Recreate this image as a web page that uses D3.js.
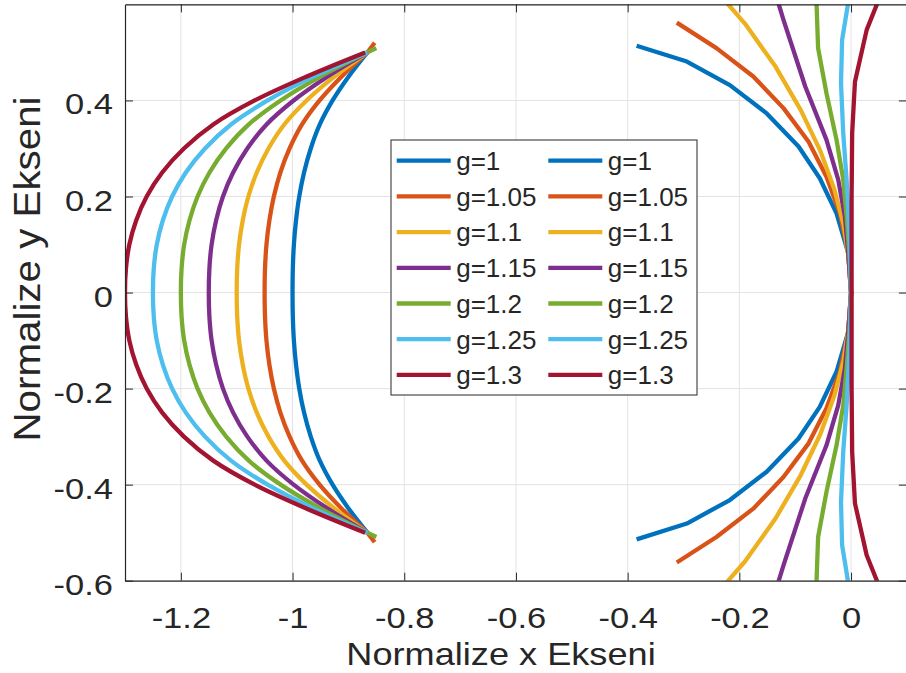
<!DOCTYPE html>
<html>
<head>
<meta charset="utf-8">
<script src="https://cdn.jsdelivr.net/npm/d3@7"></script>
<style>
  html, body { margin: 0; padding: 0; background: #ffffff; }
  svg { display: block; }
  text { font-family: "Liberation Sans", Arial, sans-serif; fill: #262626; }
</style>
</head>
<body>
<svg id="chart" width="906" height="673"></svg>
<script>
// ---------- data ----------
const gLabels = ["g=1", "g=1.05", "g=1.1", "g=1.15", "g=1.2", "g=1.25", "g=1.3"];
const colors  = ["#0072BD", "#D95319", "#EDB120", "#7E2F8E", "#77AC30", "#4DBEEE", "#A2142F"];

const xTicks = [-1.2, -1, -0.8, -0.6, -0.4, -0.2, 0];
const yTicks = [-0.6, -0.4, -0.2, 0, 0.2, 0.4];

// Left family: y samples shared, x per g
const leftY = [0.5, 0.45, 0.4, 0.35, 0.3, 0.25, 0.2, 0.15, 0.1, 0.05, 0,
               -0.05, -0.1, -0.15, -0.2, -0.25, -0.3, -0.35, -0.4, -0.45, -0.5];
const leftX = [
  [-0.866, -0.8995, -0.9283, -0.9512, -0.9674, -0.9794, -0.9880, -0.9938, -0.9976, -0.9995, -1.000,
   -0.9995, -0.9976, -0.9938, -0.9880, -0.9794, -0.9674, -0.9512, -0.9283, -0.8995, -0.866],
  [-0.866, -0.9120, -0.9516, -0.9830, -1.0053, -1.0218, -1.0335, -1.0415, -1.0467, -1.0493, -1.050,
   -1.0493, -1.0467, -1.0415, -1.0335, -1.0218, -1.0053, -0.9830, -0.9516, -0.9120, -0.866],
  [-0.866, -0.9245, -0.9748, -1.0148, -1.0431, -1.0641, -1.0791, -1.0892, -1.0958, -1.0991, -1.100,
   -1.0991, -1.0958, -1.0892, -1.0791, -1.0641, -1.0431, -1.0148, -0.9748, -0.9245, -0.866],
  [-0.866, -0.9370, -0.9981, -1.0466, -1.0810, -1.1064, -1.1246, -1.1369, -1.1449, -1.1489, -1.150,
   -1.1489, -1.1449, -1.1369, -1.1246, -1.1064, -1.0810, -1.0466, -0.9981, -0.9370, -0.866],
  [-0.866, -0.9495, -1.0213, -1.0784, -1.1188, -1.1487, -1.1701, -1.1846, -1.1940, -1.1987, -1.200,
   -1.1987, -1.1940, -1.1846, -1.1701, -1.1487, -1.1188, -1.0784, -1.0213, -0.9495, -0.866],
  [-0.866, -0.9620, -1.0446, -1.1102, -1.1567, -1.1911, -1.2156, -1.2323, -1.2431, -1.2485, -1.250,
   -1.2485, -1.2431, -1.2323, -1.2156, -1.1911, -1.1567, -1.1102, -1.0446, -0.9620, -0.866],
  [-0.870, -0.9745, -1.0678, -1.1420, -1.1945, -1.2334, -1.2612, -1.2800, -1.2922, -1.2983, -1.300,
   -1.2983, -1.2922, -1.2800, -1.2612, -1.2334, -1.1945, -1.1420, -1.0678, -0.9745, -0.870]
];
// short straight stubs beyond the tips (orange and green)
const stubX = [[-0.866, -0.853], [-0.866, -0.850]];
const stubY = [[0.5, 0.520], [0.5, 0.509]];
const stubSeries = [1, 4];

// Right family (x, y) — one array per g (polylines)
const rightX = [
  [-0.384, -0.294, -0.217, -0.151, -0.094, -0.056, -0.026, -0.005, 0, -0.005, -0.026, -0.056, -0.094, -0.151, -0.217, -0.294, -0.384],
  [-0.312, -0.241, -0.175, -0.121, -0.076, -0.044, -0.020, -0.005, 0, -0.005, -0.020, -0.044, -0.076, -0.121, -0.175, -0.241, -0.312],
  [-0.250, -0.190, -0.135, -0.090, -0.055, -0.030, -0.013, -0.004, 0, -0.004, -0.013, -0.030, -0.055, -0.090, -0.135, -0.190, -0.250],
  [-0.140, -0.121, -0.082, -0.044, -0.023, -0.011, -0.005, 0, -0.005, -0.011, -0.023, -0.044, -0.082, -0.121, -0.140],
  [-0.063, -0.059, -0.044, -0.026, -0.014, -0.008, -0.003, 0, -0.003, -0.008, -0.014, -0.026, -0.044, -0.059, -0.063],
  [ 0.000, -0.016, -0.018, -0.014, -0.008, -0.003, 0, -0.003, -0.008, -0.014, -0.018, -0.016, 0.000],
  [ 0.060, 0.028, 0.007, 0.002, 0.001, 0.001, 0.001, 0.001, 0.002, 0.007, 0.028, 0.060]
];
const rightY = [
  [0.514, 0.481, 0.432, 0.373, 0.304, 0.238, 0.165, 0.082, 0, -0.082, -0.165, -0.238, -0.304, -0.373, -0.432, -0.481, -0.514],
  [0.562, 0.509, 0.450, 0.384, 0.314, 0.241, 0.165, 0.082, 0, -0.082, -0.165, -0.241, -0.314, -0.384, -0.450, -0.509, -0.562],
  [0.640, 0.560, 0.470, 0.380, 0.295, 0.215, 0.140, 0.070, 0, -0.070, -0.140, -0.215, -0.295, -0.380, -0.470, -0.560, -0.640],
  [0.640, 0.568, 0.429, 0.318, 0.235, 0.158, 0.082, 0, -0.082, -0.158, -0.235, -0.318, -0.429, -0.568, -0.640],
  [0.640, 0.509, 0.415, 0.318, 0.235, 0.158, 0.082, 0, -0.082, -0.158, -0.235, -0.318, -0.415, -0.509, -0.640],
  [0.640, 0.526, 0.436, 0.332, 0.235, 0.125, 0, -0.125, -0.235, -0.332, -0.436, -0.526, -0.640],
  [0.640, 0.547, 0.439, 0.332, 0.200, 0.050, -0.050, -0.200, -0.332, -0.439, -0.547, -0.640]
];

// ---------- layout ----------
const svg = d3.select("#chart");
const plot = { left: 125, right: 906.9, top: 4.4, bottom: 580.7 };
const x = d3.scaleLinear().domain([-1.3, 0.1]).range([plot.left, plot.right]);
const y = d3.scaleLinear().domain([-0.6, 0.6]).range([plot.bottom, plot.top]);
const axisColor = "#262626";
const SX = 1.15;   // horizontal stretch of the reference tick lettering
const LW = 4.3;

svg.append("defs").append("clipPath").attr("id", "clip")
  .append("rect").attr("x", plot.left).attr("y", plot.top)
  .attr("width", plot.right - plot.left).attr("height", plot.bottom - plot.top);

// grid
const grid = svg.append("g").attr("stroke", "#e3e3e3").attr("stroke-width", 1);
grid.selectAll("line.gx").data(xTicks).join("line")
  .attr("x1", d => x(d)).attr("x2", d => x(d)).attr("y1", plot.top).attr("y2", plot.bottom);
grid.selectAll("line.gy").data(yTicks.concat([0.6])).join("line")
  .attr("y1", d => y(d)).attr("y2", d => y(d)).attr("x1", plot.left).attr("x2", plot.right);

// curves
const line = d3.line().x(d => x(d[0])).y(d => y(d[1]));
const smooth = d3.line().x(d => x(d[0])).y(d => y(d[1])).curve(d3.curveCatmullRom.alpha(0.5));
const curves = svg.append("g").attr("clip-path", "url(#clip)").attr("fill", "none")
  .attr("stroke-width", LW).attr("stroke-linejoin", "round");
for (let i = 0; i < gLabels.length; i++) {
  const s = stubSeries.indexOf(i);
  if (s >= 0) {
    [1, -1].forEach(sign => {
      const sp = stubX[s].map((v, j) => [v, sign * stubY[s][j]]);
      curves.append("path").attr("d", line(sp)).attr("stroke", colors[i]);
    });
  }
  const lp = leftX[i].map((v, j) => [v, leftY[j]]);
  const rp = rightX[i].map((v, j) => [v, rightY[i][j]]);
  curves.append("path").attr("d", smooth(lp)).attr("stroke", colors[i]);
  curves.append("path").attr("d", line(rp)).attr("stroke", colors[i]);
}

// axes (box with inward ticks)
const fmt = d => String(+d.toFixed(1));
const xAxis = d3.axisBottom(x).tickValues(xTicks).tickFormat(fmt).tickSizeInner(-8).tickSizeOuter(0).tickPadding(26);
const gx = svg.append("g").attr("transform", `translate(0,${plot.bottom})`).call(xAxis);
gx.select(".domain").attr("stroke", axisColor);
gx.selectAll(".tick line").attr("stroke", axisColor);
gx.selectAll(".tick text").attr("font-size", 30).attr("fill", axisColor)
  .attr("font-family", "Liberation Sans, Arial, sans-serif")
  .attr("transform", `scale(${SX},1)`).attr("dy", "0.71em");

const yAxis = d3.axisLeft(y).tickValues(yTicks).tickFormat(fmt).tickSizeInner(-8).tickSizeOuter(0).tickPadding(0);
const gy = svg.append("g").attr("transform", `translate(${plot.left},0)`).call(yAxis);
gy.select(".domain").attr("stroke", axisColor);
gy.selectAll(".tick line").attr("stroke", axisColor);
gy.selectAll(".tick text").attr("font-size", 30).attr("fill", axisColor)
  .attr("font-family", "Liberation Sans, Arial, sans-serif")
  .attr("x", -12 / SX).attr("dy", "0.45em")
  .attr("transform", `scale(${SX},1)`);

// top & right ticks
const gt = svg.append("g").attr("transform", `translate(0,${plot.top})`)
  .call(d3.axisTop(x).tickValues(xTicks).tickFormat("").tickSizeInner(-8).tickSizeOuter(0));
gt.select(".domain").attr("stroke", axisColor);
gt.selectAll(".tick line").attr("stroke", axisColor);
const gr = svg.append("g").attr("transform", `translate(${plot.right},0)`)
  .call(d3.axisRight(y).tickValues(yTicks).tickFormat("").tickSizeInner(-8).tickSizeOuter(0));
gr.select(".domain").attr("stroke", axisColor);
gr.selectAll(".tick line").attr("stroke", axisColor);
svg.selectAll(".domain").attr("stroke-width", 1.2);

// axis titles
svg.append("text").attr("transform", `translate(501,665) scale(1.13,1)`)
  .attr("text-anchor", "middle").attr("font-size", 32).text("Normalize x Ekseni");
svg.append("text").attr("transform", `translate(40,269) rotate(-90) scale(1.09,1)`)
  .attr("text-anchor", "middle").attr("font-size", 37).text("Normalize y Ekseni");

// legend
const leg = svg.append("g");
leg.append("rect").attr("x", 391).attr("y", 140).attr("width", 306).attr("height", 255)
  .attr("fill", "#ffffff").attr("stroke", axisColor).attr("stroke-width", 1);
const rowY = i => 160.7 + i * 35.7;
[0, 1].forEach(c => {
  const lx = c === 0 ? 396.7 : 548.3;
  gLabels.forEach((lab, i) => {
    leg.append("line").attr("x1", lx).attr("x2", lx + 54).attr("y1", rowY(i)).attr("y2", rowY(i))
      .attr("stroke", colors[i]).attr("stroke-width", LW);
    leg.append("text").attr("transform", `translate(${lx + 59.5},${rowY(i)})`)
      .attr("dy", "0.36em").attr("font-size", 26).text(lab);
  });
});
</script>
</body>
</html>
